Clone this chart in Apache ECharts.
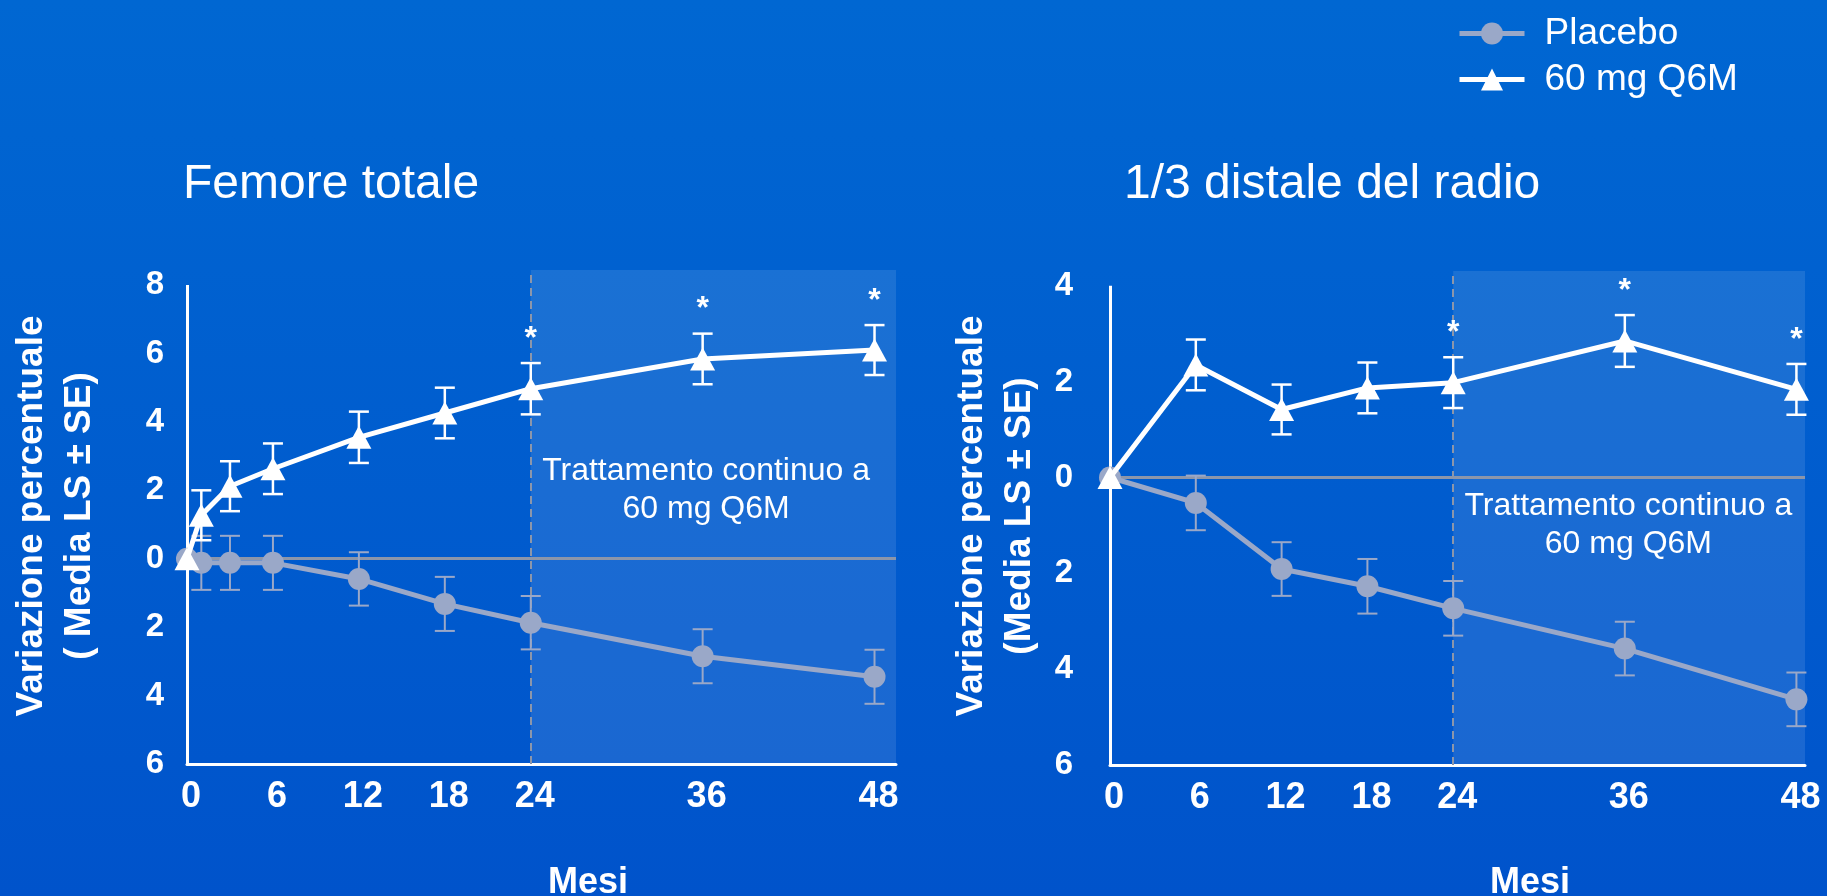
<!DOCTYPE html>
<html>
<head>
<meta charset="utf-8">
<script src="https://cdn.jsdelivr.net/npm/echarts@6/dist/echarts.min.js"></script>
<style>
html,body{margin:0;padding:0;width:1827px;height:896px;overflow:hidden;}
#c{width:1827px;height:896px;}
</style>
</head>
<body>
<div id="c"></div>
<script>
// ---- Data ----
const monthsFemur = [0, 1, 3, 6, 12, 18, 24, 36, 48];
const femurDrug = [0, 1.27, 2.12, 2.63, 3.55, 4.26, 4.97, 5.84, 6.10];
const femurDrugSE = [0, 0.73, 0.73, 0.74, 0.75, 0.74, 0.75, 0.74, 0.73];
const femurPlacebo = [0, -0.12, -0.12, -0.12, -0.59, -1.32, -1.87, -2.85, -3.45];
const femurPlaceboSE = [0, 0.79, 0.79, 0.79, 0.78, 0.79, 0.78, 0.79, 0.79];
const femurSig = [0, 0, 0, 0, 0, 0, 1, 1, 1];

const monthsRadius = [0, 6, 12, 18, 24, 36, 48];
const radiusDrug = [0, 2.35, 1.42, 1.87, 1.98, 2.85, 1.84];
const radiusDrugSE = [0, 0.53, 0.52, 0.53, 0.53, 0.54, 0.53];
const radiusPlacebo = [0, -0.53, -1.91, -2.27, -2.73, -3.57, -4.63];
const radiusPlaceboSE = [0, 0.57, 0.56, 0.57, 0.57, 0.56, 0.56];
const radiusSig = [0, 0, 0, 0, 1, 1, 1];

const xTickLabels = [0, 6, 12, 18, 24, 36, 48];
const yTicksFemur = [-6, -4, -2, 0, 2, 4, 6, 8];
const yTicksRadius = [-6, -4, -2, 0, 2, 4];
const treatStart = 24;
const seriesNames = ['Placebo', '60 mg Q6M'];
const titles = ['Femore totale', '1/3 distale del radio'];
const xName = 'Mesi';
const yName = 'Variazione percentuale';
const yNameSub = ['( Media LS \u00b1 SE)', '(Media LS \u00b1 SE)'];
const noteText = 'Trattamento continuo a\n60 mg Q6M';
const noteFemur = [36.24, 2.0];
const noteRadius = [36.25, -1.0];

// ---- Styling ----
const FONT = '"Liberation Sans", Arial, Helvetica, sans-serif';
const WHITE = '#ffffff';
const PLACEBO = '#9aa8c8';
const GRAYLINE = '#8c96aa';

function pairs(xs, ys) { return xs.map((x, i) => [x, ys[i]]); }
function errData(xs, ys, se, sig) { return xs.map((x, i) => [x, ys[i] - se[i], ys[i] + se[i], sig ? sig[i] : 0]); }

function errSeries(idx, data, color, width) {
  return {
    type: 'custom', name: 'err', xAxisIndex: idx, yAxisIndex: idx, z: 2, silent: true, clip: false,
    encode: { x: 0, y: [1, 2] },
    data: data,
    renderItem: function (params, api) {
      const x = api.value(0), lo = api.value(1), hi = api.value(2), sig = api.value(3);
      if (hi === lo) return;
      const pl = api.coord([x, lo]), ph = api.coord([x, hi]);
      const cw = 10;
      const st = { stroke: color, lineWidth: width };
      const children = [
        { type: 'line', shape: { x1: pl[0], y1: pl[1], x2: ph[0], y2: ph[1] }, style: st },
        { type: 'line', shape: { x1: ph[0] - cw, y1: ph[1], x2: ph[0] + cw, y2: ph[1] }, style: st },
        { type: 'line', shape: { x1: pl[0] - cw, y1: pl[1], x2: pl[0] + cw, y2: pl[1] }, style: st }
      ];
      if (sig) {
        children.push({ type: 'text', style: { text: '*', x: ph[0], y: ph[1] - 24, fill: WHITE,
          font: 'bold 32px ' + FONT, align: 'center', verticalAlign: 'middle' } });
      }
      return { type: 'group', children: children };
    }
  };
}

function refSeries(idx, yTicks) {
  return {
    type: 'line', name: 'ref', xAxisIndex: idx, yAxisIndex: idx, data: [], silent: true, clip: false,
    markArea: {
      silent: true, z: 0.5,
      itemStyle: { color: 'rgba(255,255,255,0.10)' },
      data: [[{ xAxis: treatStart, yAxis: 'max' }, { xAxis: 'max', yAxis: 'min' }]]
    },
    markLine: {
      silent: true, symbol: 'none', z: 1, label: { show: false }, animation: false,
      data: [
        { yAxis: 0, lineStyle: { color: GRAYLINE, width: 3, type: 'solid' } },
        { xAxis: treatStart, lineStyle: { color: GRAYLINE, width: 2, type: [8, 5] } },
        [{ coord: [0, yTicks[0]], lineStyle: { color: WHITE, width: 3, type: 'solid' } },
         { coord: [0, yTicks[yTicks.length - 1]] }]
      ]
    }
  };
}

function lineSeries(idx, name, data, color, symbol, size, z, note) {
  const s = {
    type: 'line', name: name, xAxisIndex: idx, yAxisIndex: idx, data: data, z: z,
    symbol: symbol, symbolSize: size, showSymbol: true,
    lineStyle: { color: color, width: 5 },
    itemStyle: { color: color, borderWidth: 0 },
    clip: false
  };
  if (note) {
    s.markPoint = {
      silent: true, symbol: 'circle', symbolSize: 1, itemStyle: { color: 'rgba(0,0,0,0)' },
      data: [{ coord: note }],
      label: { show: true, position: 'inside', formatter: noteText, color: WHITE,
        fontFamily: FONT, fontSize: 32, lineHeight: 38, align: 'center' }
    };
  }
  return s;
}

function xAxisCfg(idx, max) {
  return {
    type: 'value', gridIndex: idx, min: 0, max: max,
    axisLine: { show: true, onZero: false, lineStyle: { color: WHITE, width: 3 } },
    axisTick: { show: false }, splitLine: { show: false },
    axisLabel: { customValues: xTickLabels, color: WHITE, fontFamily: FONT, fontWeight: 'bold',
      fontSize: 36, margin: 15, padding: [0, 0, 0, 8] }
  };
}
function yAxisCfg(idx, ticks, max, margin) {
  return {
    type: 'value', gridIndex: idx, min: ticks[0], max: max,
    axisLine: { show: false }, axisTick: { show: false }, splitLine: { show: false },
    axisLabel: { customValues: ticks, color: WHITE, fontFamily: FONT, fontWeight: 'bold',
      fontSize: 33, margin: margin, formatter: v => String(Math.abs(v)) }
  };
}

const chart = echarts.init(document.getElementById('c'), null, { renderer: 'canvas' });
chart.setOption({
  animation: false,
  backgroundColor: { type: 'linear', x: 0, y: 0, x2: 0, y2: 1,
    colorStops: [{ offset: 0, color: '#0067d2' }, { offset: 1, color: '#0053cb' }] },
  title: [
    { text: titles[0], left: 178, top: 156, textStyle: { color: WHITE, fontFamily: FONT, fontWeight: 'normal', fontSize: 48 } },
    { text: titles[1], left: 1119, top: 156, textStyle: { color: WHITE, fontFamily: FONT, fontWeight: 'normal', fontSize: 48 } },
    { text: xName, left: 543, top: 860, textStyle: { color: WHITE, fontFamily: FONT, fontWeight: 'bold', fontSize: 36 } },
    { text: xName, left: 1485, top: 860, textStyle: { color: WHITE, fontFamily: FONT, fontWeight: 'bold', fontSize: 36 } }
  ],
  legend: {
    data: seriesNames, orient: 'vertical', left: 1452, top: 10, itemWidth: 65, itemHeight: 27.5, itemGap: 9,
    selectedMode: false,
    lineStyle: { width: 5 },
    textStyle: { color: WHITE, fontFamily: FONT, fontSize: 37, lineHeight: 36, padding: [0, 0, 0, 15] }
  },
  graphic: [
    { type: 'text', x: 56, y: 516, rotation: Math.PI / 2,
      style: { text: yName + '\n' + yNameSub[0], fill: WHITE, font: 'bold 37px ' + FONT, lineHeight: 48, align: 'center', verticalAlign: 'middle' } },
    { type: 'text', x: 996, y: 516, rotation: Math.PI / 2,
      style: { text: yName + '\n' + yNameSub[1], fill: WHITE, font: 'bold 37px ' + FONT, lineHeight: 48, align: 'center', verticalAlign: 'middle' } }
  ],
  grid: [
    { left: 187, top: 270, width: 709, height: 494 },
    { left: 1110, top: 271, width: 695, height: 494 }
  ],
  xAxis: [xAxisCfg(0, 49.5), xAxisCfg(1, 48.6)],
  yAxis: [yAxisCfg(0, yTicksFemur, 8.44, 23), yAxisCfg(1, yTicksRadius, 4.31, 37)],
  series: [
    refSeries(0, yTicksFemur),
    errSeries(0, errData(monthsFemur, femurPlacebo, femurPlaceboSE), PLACEBO, 2),
    errSeries(0, errData(monthsFemur, femurDrug, femurDrugSE, femurSig), WHITE, 2.5),
    lineSeries(0, seriesNames[0], pairs(monthsFemur, femurPlacebo), PLACEBO, 'circle', 22, 3, noteFemur),
    lineSeries(0, seriesNames[1], pairs(monthsFemur, femurDrug), WHITE, 'triangle', [25, 23], 4),
    refSeries(1, yTicksRadius),
    errSeries(1, errData(monthsRadius, radiusPlacebo, radiusPlaceboSE), PLACEBO, 2),
    errSeries(1, errData(monthsRadius, radiusDrug, radiusDrugSE, radiusSig), WHITE, 2.5),
    lineSeries(1, seriesNames[0], pairs(monthsRadius, radiusPlacebo), PLACEBO, 'circle', 22, 3, noteRadius),
    lineSeries(1, seriesNames[1], pairs(monthsRadius, radiusDrug), WHITE, 'triangle', [25, 23], 4)
  ]
});
</script>
</body>
</html>
